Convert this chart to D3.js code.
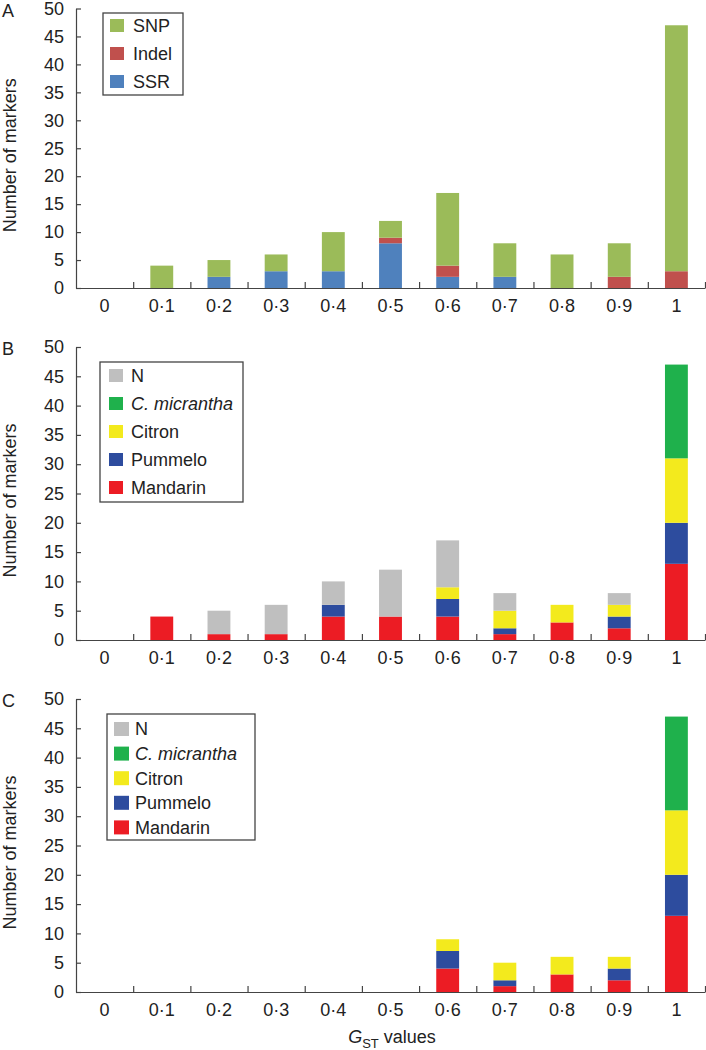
<!DOCTYPE html>
<html><head><meta charset="utf-8">
<script src="https://cdn.jsdelivr.net/npm/d3@7/dist/d3.min.js"></script>
<style>
body{margin:0;background:#fff;}
svg text{font-family:"Liberation Sans",Arial,Helvetica,sans-serif;fill:#222;}
</style></head><body>
<svg id="chart" width="706" height="1050"></svg>
<script>
// ---------- DATA ----------
const categories = ["0","0·1","0·2","0·3","0·4","0·5","0·6","0·7","0·8","0·9","1"];
const yTickValues = [0,5,10,15,20,25,30,35,40,45,50];

// Panel A
const ssrA   = [0,0,2,3,3,8,2,2,0,0,0];
const indelA = [0,0,0,0,0,1,2,0,0,2,3];
const snpA   = [0,4,3,3,7,3,13,6,6,6,44];

// Panel B
const mandarinB  = [0,4,1,1,4,4,4,1,3,2,13];
const pummeloB   = [0,0,0,0,2,0,3,1,0,2,7];
const citronB    = [0,0,0,0,0,0,2,3,3,2,11];
const micranthaB = [0,0,0,0,0,0,0,0,0,0,16];
const nB         = [0,0,4,5,4,8,8,3,0,2,0];

// Panel C
const mandarinC  = [0,0,0,0,0,0,4,1,3,2,13];
const pummeloC   = [0,0,0,0,0,0,3,1,0,2,7];
const citronC    = [0,0,0,0,0,0,2,3,3,2,11];
const micranthaC = [0,0,0,0,0,0,0,0,0,0,16];
const nC         = [0,0,0,0,0,0,0,0,0,0,0];

const seriesA = ["SSR","Indel","SNP"];
const seriesBC = ["Mandarin","Pummelo","Citron","C. micrantha","N"];
const legendA = ["SNP","Indel","SSR"];
const legendBC = ["N","C. micrantha","Citron","Pummelo","Mandarin"];

// ---------- STYLE ----------
const colors = {
  "SNP":"#9bbb59","Indel":"#c0504d","SSR":"#4f81bd",
  "N":"#bfbfbf","C. micrantha":"#1fb14c","Citron":"#f3ea1d","Pummelo":"#2d4c9e","Mandarin":"#ec1c24"
};

const svg = d3.select("#chart");
const xLeft = 76, xRight = 705;
const x = d3.scaleBand().domain(categories).range([xLeft, xRight]).paddingInner(0.6).paddingOuter(0.3);
const xb = d3.scaleLinear().domain([0, categories.length]).range([xLeft, xRight]);

function rows(keys, arrays){
  return categories.map((c,i)=>{const o={cat:c}; keys.forEach((k,j)=>o[k]=arrays[j][i]); return o;});
}

const panels = [
  {letter:"A", y0:288, y1:8.5, keys:seriesA, data:rows(seriesA,[ssrA,indelA,snpA]), legend:legendA,
   box:{x:103,y:13,w:80,h:82}, sw:{x:110,w:14,h:13}, rowY0:25.5, rowStep:28, textX:133},
  {letter:"B", y0:640, y1:347, keys:seriesBC, data:rows(seriesBC,[mandarinB,pummeloB,citronB,micranthaB,nB]), legend:legendBC,
   box:{x:100,y:362,w:143,h:140}, sw:{x:109,w:14,h:13}, rowY0:375.5, rowStep:28, textX:131},
  {letter:"C", y0:992, y1:699, keys:seriesBC, data:rows(seriesBC,[mandarinC,pummeloC,citronC,micranthaC,nC]), legend:legendBC,
   box:{x:107,y:714,w:148,h:126}, sw:{x:114,w:15,h:14}, rowY0:729, rowStep:24.6, textX:135}
];

panels.forEach(p=>{
  const y = d3.scaleLinear().domain([0,50]).range([p.y0, p.y1]);
  const g = svg.append("g");

  // bars
  const stacked = d3.stack().keys(p.keys)(p.data);
  g.selectAll("g.series").data(stacked).enter().append("g")
    .attr("fill", d=>colors[d.key])
    .selectAll("rect").data(d=>d).enter().append("rect")
      .attr("x", d=>x(d.data.cat))
      .attr("width", x.bandwidth())
      .attr("y", d=>y(d[1]))
      .attr("height", d=>Math.max(0, y(d[0]) - y(d[1])));

  // y axis
  const ya = g.append("g").attr("transform",`translate(${xLeft},0)`)
    .call(d3.axisLeft(y).tickValues(yTickValues).tickSize(-5).tickPadding(12).tickSizeOuter(0));
  ya.selectAll("text").style("font-size","18px");
  ya.select(".domain").attr("stroke","#444").attr("stroke-width",1.2);
  ya.selectAll(".tick line").attr("stroke","#444").attr("stroke-width",1.2);

  // x axis: boundary ticks
  const xa = g.append("g").attr("transform",`translate(0,${p.y0})`)
    .call(d3.axisBottom(xb).tickValues(d3.range(1,categories.length+1)).tickFormat("").tickSize(-6).tickSizeOuter(0));
  xa.select(".domain").attr("stroke","#444").attr("stroke-width",1.2);
  xa.selectAll(".tick line").attr("stroke","#444").attr("stroke-width",1.2);

  // x labels
  const xl = g.append("g").attr("transform",`translate(0,${p.y0})`)
    .call(d3.axisBottom(x).tickSize(0).tickPadding(11));
  xl.select(".domain").remove();
  xl.selectAll("text").style("font-size","18px");

  // panel letter
  g.append("text").attr("x",2).attr("y",Math.round(p.y1)+8).text(p.letter).style("font-size","18px");

  // y title
  g.append("text").attr("transform",`translate(16,${(p.y0+p.y1)/2+7}) rotate(-90)`)
    .attr("text-anchor","middle").style("font-size","18px").text("Number of markers");

  // legend
  const lg = g.append("g");
  lg.append("rect").attr("x",p.box.x).attr("y",p.box.y).attr("width",p.box.w).attr("height",p.box.h)
    .attr("fill","#fff").attr("stroke","#444").attr("stroke-width",1.3);
  p.legend.forEach((k,i)=>{
    const cy = p.rowY0 + i*p.rowStep;
    lg.append("rect").attr("x",p.sw.x).attr("y",cy-p.sw.h/2).attr("width",p.sw.w).attr("height",p.sw.h).attr("fill",colors[k]);
    lg.append("text").attr("x",p.textX).attr("y",cy).attr("dy","0.36em").style("font-size","18px")
      .style("font-style", k==="C. micrantha"?"italic":"normal").text(k);
  });
});

// x axis title
const t = svg.append("text").attr("x",392).attr("y",1043).attr("text-anchor","middle").style("font-size","18px");
t.append("tspan").style("font-style","italic").text("G");
t.append("tspan").attr("dy",5).style("font-size","13px").text("ST");
t.append("tspan").attr("dy",-5).text(" values");
</script>
</body></html>
